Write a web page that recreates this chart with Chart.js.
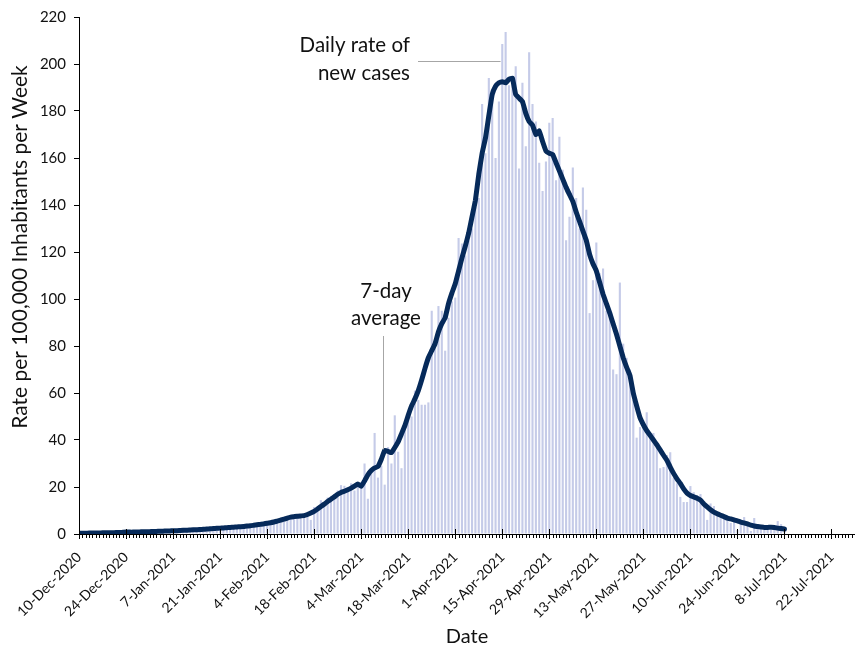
<!DOCTYPE html>
<html>
<head>
<meta charset="utf-8">
<script src="https://cdn.jsdelivr.net/npm/chart.js@4.4.1/dist/chart.umd.min.js"></script>
<style>
  html, body { margin: 0; padding: 0; background: #fff; }
</style>
</head>
<body>
<canvas id="chart" width="855" height="649"></canvas>
<script>
// day 0 = 10-Dec-2020, one value per day up to 8-Jul-2021
const tickLabels = [
  '10-Dec-2020', '24-Dec-2020', '7-Jan-2021', '21-Jan-2021', '4-Feb-2021',
  '18-Feb-2021', '4-Mar-2021', '18-Mar-2021', '1-Apr-2021', '15-Apr-2021',
  '29-Apr-2021', '13-May-2021', '27-May-2021', '10-Jun-2021', '24-Jun-2021',
  '8-Jul-2021', '22-Jul-2021'
];

// daily rate of new cases
const dailyRate = [
  0.2, 0.4, 0.3, 0.5, 0.3, 0.4, 0.5, 0.6, 0.4, 0.5,
  0.6, 0.7, 0.5, 0.8, 0.9, 0.7, 0.8, 1.0, 0.8, 1.1,
  1.0, 0.9, 1.2, 1.1, 1.3, 1.2, 1.4, 1.3, 1.5, 1.3,
  1.6, 1.7, 1.5, 1.8, 1.9, 1.7, 2.0, 2.1, 2.0, 2.3,
  2.4, 2.3, 2.6, 2.5, 2.8, 2.9, 2.7, 3.1, 3.0, 3.3,
  3.5, 3.4, 3.8, 4.0, 3.9, 4.5, 4.2, 5.5, 5.0, 6.2,
  6.0, 7.1, 7.5, 7.0, 8.0, 7.4, 8.2, 8.5, 7.9, 6.0,
  11.5, 10.8, 14.4, 13.5, 15.5, 16.2, 17.0, 18.5, 20.8, 20.5,
  19.6, 21.6, 18.5, 20.0, 21.8, 30.0, 15.0, 27.0, 43.0, 24.0,
  29.0, 21.0, 37.0, 30.0, 50.5, 35.0, 28.0, 47.0, 52.0, 50.0,
  61.0, 57.0, 55.0, 55.0, 56.0, 95.0, 81.0, 97.0, 95.0, 78.0,
  92.0, 99.0, 100.6, 126.0, 123.6, 118.5, 124.8, 130.0, 139.0, 143.0,
  183.0, 162.0, 194.0, 188.5, 160.0, 184.0, 208.5, 213.6, 191.0, 192.5,
  199.0, 155.5, 192.0, 165.0, 205.0, 183.0, 175.5, 158.0, 146.0, 158.5,
  175.0, 177.0, 150.5, 169.0, 155.0, 125.0, 135.0, 156.0, 143.0, 130.0,
  147.5, 138.0, 94.0, 108.0, 124.0, 111.0, 113.0, 95.0, 94.0, 70.0,
  68.0, 107.0, 81.0, 75.0, 70.0, 57.0, 41.0, 45.5, 48.4, 51.8,
  43.0, 43.0, 37.0, 28.0, 28.5, 33.6, 34.8, 24.0, 21.6, 15.8,
  13.6, 13.6, 20.4, 17.8, 16.6, 17.0, 13.6, 6.0, 13.0, 11.9,
  8.9, 7.4, 6.8, 6.3, 4.7, 6.0, 1.7, 5.0, 7.2, 3.4,
  1.3, 6.8, 2.5, 2.5, 1.7, 3.0, 1.7, 1.7, 5.5, 4.2,
  3.0
];

// 7-day average
const weekAverage = [
  0.3, 0.3, 0.3, 0.4, 0.4, 0.4, 0.4, 0.5, 0.5, 0.5,
  0.5, 0.6, 0.6, 0.7, 0.8, 0.8, 0.8, 0.9, 0.9, 1.0,
  1.0, 1.0, 1.1, 1.1, 1.2, 1.2, 1.3, 1.3, 1.4, 1.4,
  1.5, 1.6, 1.6, 1.7, 1.8, 1.8, 1.9, 2.0, 2.1, 2.2,
  2.3, 2.4, 2.5, 2.6, 2.7, 2.8, 2.9, 3.0, 3.1, 3.2,
  3.4, 3.5, 3.7, 3.9, 4.1, 4.3, 4.6, 4.8, 5.1, 5.5,
  5.9, 6.3, 6.8, 7.2, 7.4, 7.6, 7.7, 7.8, 8.3, 8.9,
  9.6, 10.6, 11.7, 12.7, 13.8, 14.8, 15.8, 16.9, 17.7, 18.2,
  18.8, 19.5, 20.4, 21.3, 20.3, 22.6, 25.2, 27.0, 28.1, 28.7,
  31.8, 35.6, 35.2, 34.6, 36.8, 39.2, 42.6, 46.1, 50.5, 54.5,
  57.5, 61.0, 65.5, 70.5, 75.0, 78.0, 81.0, 86.0, 89.5, 92.0,
  98.0, 102.5, 106.5, 112.0, 117.5, 122.5, 128.0, 135.0, 142.0, 153.0,
  162.0, 168.5, 178.0, 187.0, 190.5, 192.0, 192.5, 192.0, 193.5, 194.0,
  187.0, 185.5, 184.0, 179.0, 175.5, 174.0, 170.0, 171.5, 167.0, 163.0,
  162.0, 161.5, 158.0, 154.5, 151.0, 147.5, 144.5, 141.5, 137.0, 133.0,
  129.0, 125.0, 119.0, 115.0, 112.0, 107.0, 102.0, 98.0, 94.0, 89.5,
  85.0, 80.0, 75.0, 71.0, 67.5, 60.0, 54.5, 49.5, 46.5, 44.0,
  42.0, 40.0, 38.0, 35.8, 33.5, 31.4, 28.5, 25.8, 23.5, 21.5,
  19.2, 17.4, 16.4, 15.8, 15.2, 14.4, 12.8, 11.5, 10.3, 9.3,
  8.6, 8.0, 7.4, 6.8, 6.4, 6.0, 5.6, 5.1, 4.7, 4.3,
  3.8, 3.4, 3.2, 3.0, 2.8, 2.8, 2.9, 2.8, 2.5, 2.3,
  2.1
];

const FONT = 'Lato, "Open Sans", sans-serif';

// minor ticks, y title and the two call-out labels
const extras = {
  id: 'extras',
  afterDraw(chart) {
    const { ctx, chartArea, scales } = chart;
    const x = scales.x, y = scales.y;
    const b = chartArea.bottom;
    ctx.save();
    ctx.strokeStyle = '#000';
    ctx.lineWidth = 1;
    ctx.beginPath();
    for (let d = 0; d <= x.max; d++) {
      const px = Math.round(x.getPixelForValue(d)) + 0.5;
      if (d % 14 === 0) {
        ctx.moveTo(px, b - 5);
        ctx.lineTo(px, b);
      } else {
        ctx.moveTo(px, b);
        ctx.lineTo(px, b + 4);
      }
    }
    ctx.stroke();

    // leader lines
    ctx.strokeStyle = '#a6a6a6';
    ctx.beginPath();
    ctx.moveTo(418, 61.5);
    ctx.lineTo(x.getPixelForValue(125.5), 61.5);
    ctx.moveTo(383.5, 336);
    ctx.lineTo(383.5, y.getPixelForValue(36));
    ctx.stroke();

    ctx.fillStyle = '#111';
    ctx.font = '20.5px ' + FONT;
    ctx.textBaseline = 'middle';
    ctx.textAlign = 'right';
    ctx.fillText('Daily rate of', 410, 45);
    ctx.fillText('new cases', 410, 73);
    ctx.textAlign = 'center';
    ctx.fillText('7-day', 386, 291);
    ctx.fillText('average', 386, 318);

    ctx.font = '21px ' + FONT;
    ctx.translate(20, 247);
    ctx.rotate(-Math.PI / 2);
    ctx.fillText('Rate per 100,000 Inhabitants per Week', 0, 0);
    ctx.restore();
  }
};

const ctx = document.getElementById('chart').getContext('2d');
new Chart(ctx, {
  type: 'bar',
  data: {
    datasets: [
      {
        type: 'line',
        label: '7-day average',
        data: weekAverage.map((v, i) => ({ x: i, y: v })),
        borderColor: '#062a5a',
        borderWidth: 5,
        borderCapStyle: 'round',
        borderJoinStyle: 'round',
        pointRadius: 0,
        tension: 0.1,
        order: 0
      },
      {
        type: 'bar',
        label: 'Daily rate of new cases',
        data: dailyRate.map((v, i) => ({ x: i, y: v })),
        backgroundColor: '#c5cbe8',
        barPercentage: 0.9,
        categoryPercentage: 0.7,
        order: 1
      }
    ]
  },
  options: {
    responsive: false,
    animation: false,
    layout: { padding: { top: 16, right: 0, left: 0, bottom: 0 } },
    plugins: {
      legend: { display: false },
      tooltip: { enabled: false }
    },
    scales: {
      x: {
        type: 'linear',
        min: 0,
        max: 231,
        offset: false,
        grid: { display: true, offset: false, drawOnChartArea: false, tickLength: 5, color: '#000' },
        border: { display: true, color: '#000' },
        ticks: {
          stepSize: 14,
          includeBounds: false,
          autoSkip: false,
          maxRotation: 45,
          minRotation: 45,
          padding: 10,
          color: '#111',
          font: { family: FONT, size: 14 },
          callback: v => tickLabels[v / 14] || ''
        },
        title: {
          display: true,
          text: 'Date',
          color: '#111',
          font: { family: FONT, size: 20 },
          padding: { top: 0, bottom: 0 }
        },
        afterFit: s => { s.height = 115; }
      },
      y: {
        min: 0,
        max: 220,
        grid: { display: true, drawOnChartArea: false, tickLength: 5, color: '#000' },
        border: { display: true, color: '#000' },
        ticks: {
          stepSize: 20,
          padding: 8,
          color: '#111',
          font: { family: FONT, size: 15 }
        },
        afterFit: s => { s.width = 79; }
      }
    }
  },
  plugins: [extras]
});
</script>
</body>
</html>
